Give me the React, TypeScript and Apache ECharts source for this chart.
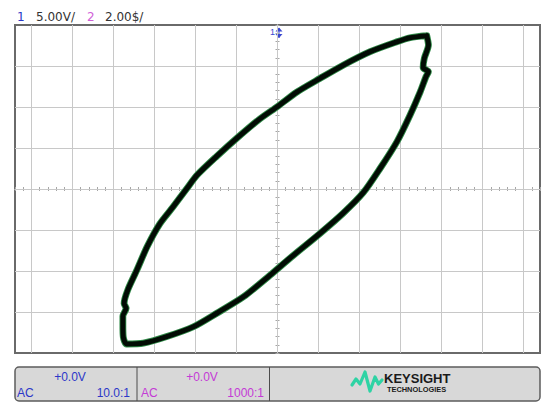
import React, { useEffect, useRef } from "react";
import * as echarts from "echarts";

// Graticule (divisions)
const gridX = [-6, -5, -4, -3, -2, -1, 0, 1, 2, 3, 4, 5, 6];
const gridY = [-3, -2, -1, 0, 1, 2, 3];

// XY trace, upper branch: from top-right tip to bottom-left tip (divisions)
const upperX = [3.64, 3.23, 2.91, 2.26, 1.6, 1.04, 0.48, 0.01, -0.43, -0.99, -1.48, -1.96, -2.22, -2.55, -2.87, -3.18, -3.43, -3.65, -3.74, -3.69, -3.77, -3.77, -3.76, -3.68];
const upperY = [3.74, 3.69, 3.59, 3.35, 3.02, 2.7, 2.37, 2.02, 1.71, 1.24, 0.8, 0.34, 0.0, -0.44, -0.85, -1.41, -1.98, -2.46, -2.79, -2.91, -3.1, -3.32, -3.61, -3.78];
// lower branch: from bottom-left tip back to top-right tip
const lowerX = [-3.68, -3.27, -2.7, -2.05, -1.48, -0.83, -0.18, 0.3, 1.04, 1.6, 2.09, 2.5, 2.91, 3.23, 3.48, 3.62, 3.68, 3.55, 3.58, 3.68, 3.64];
const lowerY = [-3.78, -3.76, -3.6, -3.36, -3.03, -2.63, -2.1, -1.69, -1.08, -0.59, -0.09, 0.5, 1.15, 1.8, 2.37, 2.74, 2.86, 2.96, 3.19, 3.51, 3.74];

const headerTexts = ["1", "5.00V/", "2", "2.00$/"];
const ch1Texts = ["+0.0V", "AC", "10.0:1"];
const ch2Texts = ["+0.0V", "AC", "1000:1"];
const brandTexts = ["KEYSIGHT", "TECHNOLOGIES"];

const BLUE = "#2b37c8";
const MAGENTA = "#c43ad6";

export default function App() {
  const ref = useRef<HTMLDivElement>(null);
  useEffect(() => {
    const chart = echarts.init(ref.current!, undefined, { renderer: "svg" });
    const trace: number[][] = [
      ...upperX.map((x, i) => [x, upperY[i]]),
      ...lowerX.map((x, i) => [x, lowerY[i]]),
    ];
    const xAxisBase = (position: string) => ({
      type: "value",
      min: -6.4,
      max: 6.4,
      interval: 0.2,
      position,
      axisLine: { show: true, onZero: true, lineStyle: { color: "#c6c6c6", width: 1 } },
      axisTick: { show: true, length: 2, lineStyle: { color: "#a6a6a6", width: 1 } },
      axisLabel: { show: false },
      splitLine: { show: false },
    });
    const yAxisBase = (position: string) => ({
      type: "value",
      min: -4,
      max: 4,
      interval: 0.2,
      position,
      axisLine: { show: true, onZero: true, lineStyle: { color: "#c6c6c6", width: 1 } },
      axisTick: { show: true, length: 2, lineStyle: { color: "#a6a6a6", width: 1 } },
      axisLabel: { show: false },
      splitLine: { show: false },
    });
    const text = (x: number, y: number, t: string, color: string, size: number, align = "left", weight = "normal", family = "Liberation Sans") => ({
      type: "text",
      x,
      y,
      silent: true,
      style: { text: t, fill: color, fontSize: size, fontFamily: family, fontWeight: weight, align, verticalAlign: "middle" },
    });
    const traceSeries = (color: string, width: number, z: number) => ({
      type: "line",
      data: trace,
      showSymbol: false,
      silent: true,
      smooth: 0.25,
      z,
      lineStyle: { color, width, join: "round", cap: "round" },
    });
    const option: any = {
      animation: false,
      backgroundColor: "#ffffff",
      grid: { left: 15, top: 25, width: 525, height: 328, show: true, borderColor: "#6a6a6a", borderWidth: 2, backgroundColor: "#ffffff" },
      xAxis: [xAxisBase("bottom"), xAxisBase("top")],
      yAxis: [yAxisBase("left"), yAxisBase("right")],
      series: [
        {
          type: "line",
          data: [[0, 0]],
          showSymbol: false,
          lineStyle: { opacity: 0 },
          silent: true,
          z: 1,
          markLine: {
            silent: true,
            z: 1,
            symbol: ["none", "none"],
            label: { show: false },
            emphasis: { disabled: true },
            lineStyle: { color: "#c8c8c8", width: 1, type: "solid" },
            data: [...gridX.map((v) => ({ xAxis: v })), ...gridY.map((v) => ({ yAxis: v }))],
          },
        },
        traceSeries("#2f8a47", 6.8, 3),
        traceSeries("#020c04", 5, 4),
      ],
      graphic: [
        text(17, 16.5, headerTexts[0], BLUE, 12, "left", "normal", "DejaVu Sans"),
        text(36, 16.5, headerTexts[1], "#333333", 12, "left", "normal", "DejaVu Sans"),
        text(87, 16.5, headerTexts[2], "#d060d8", 12, "left", "normal", "DejaVu Sans"),
        text(105, 16.5, headerTexts[3], "#333333", 12, "left", "normal", "DejaVu Sans"),
        // channel 1 ground marker
        text(270, 32, "1", "#3a48d0", 9),
        { type: "line", silent: true, shape: { x1: 279, y1: 28, x2: 279, y2: 38 }, style: { stroke: "#3a48d0", lineWidth: 1 } },
        { type: "polygon", silent: true, shape: { points: [[275.5, 31.5], [282.5, 31.5], [279, 27.5]] }, style: { fill: "#3a48d0" } },
        { type: "polygon", silent: true, shape: { points: [[275.5, 34], [282.5, 34], [279, 38]] }, style: { fill: "#3a48d0" } },
        // bottom panel
        { type: "rect", silent: true, shape: { x: 15, y: 367, width: 525, height: 34, r: 4 }, style: { fill: "#d8d8d8", stroke: "#5c5c5c", lineWidth: 1.5 } },
        { type: "line", silent: true, shape: { x1: 137, y1: 367, x2: 137, y2: 401 }, style: { stroke: "#4c4c4c", lineWidth: 1 } },
        { type: "line", silent: true, shape: { x1: 269.5, y1: 367, x2: 269.5, y2: 401 }, style: { stroke: "#4c4c4c", lineWidth: 1 } },
        text(70, 377, ch1Texts[0], BLUE, 12, "center"),
        text(17, 392.5, ch1Texts[1], BLUE, 12, "left"),
        text(130, 392.5, ch1Texts[2], BLUE, 12, "right"),
        text(202, 377, ch2Texts[0], MAGENTA, 12, "center"),
        text(141, 392.5, ch2Texts[1], MAGENTA, 12, "left"),
        text(264, 392.5, ch2Texts[2], MAGENTA, 12, "right"),
        // logo
        {
          type: "polyline",
          silent: true,
          shape: { points: [[352, 385], [356, 379], [360, 384], [365, 372], [370, 391], [375, 377], [378.5, 384], [382, 380]] },
          style: { stroke: "#2ed3a4", lineWidth: 3.2, lineJoin: "round", lineCap: "round", fill: null },
        },
        text(384, 378.5, brandTexts[0], "#1a1a1a", 13, "left", "bold"),
        text(387, 389.5, brandTexts[1], "#1a1a1a", 7.4, "left", "bold"),
      ],
    };
    chart.setOption(option);
    return () => chart.dispose();
  }, []);
  return <div ref={ref} style={{ position: "absolute", left: 0, top: 0, width: 550, height: 409, background: "#ffffff" }} />;
}
